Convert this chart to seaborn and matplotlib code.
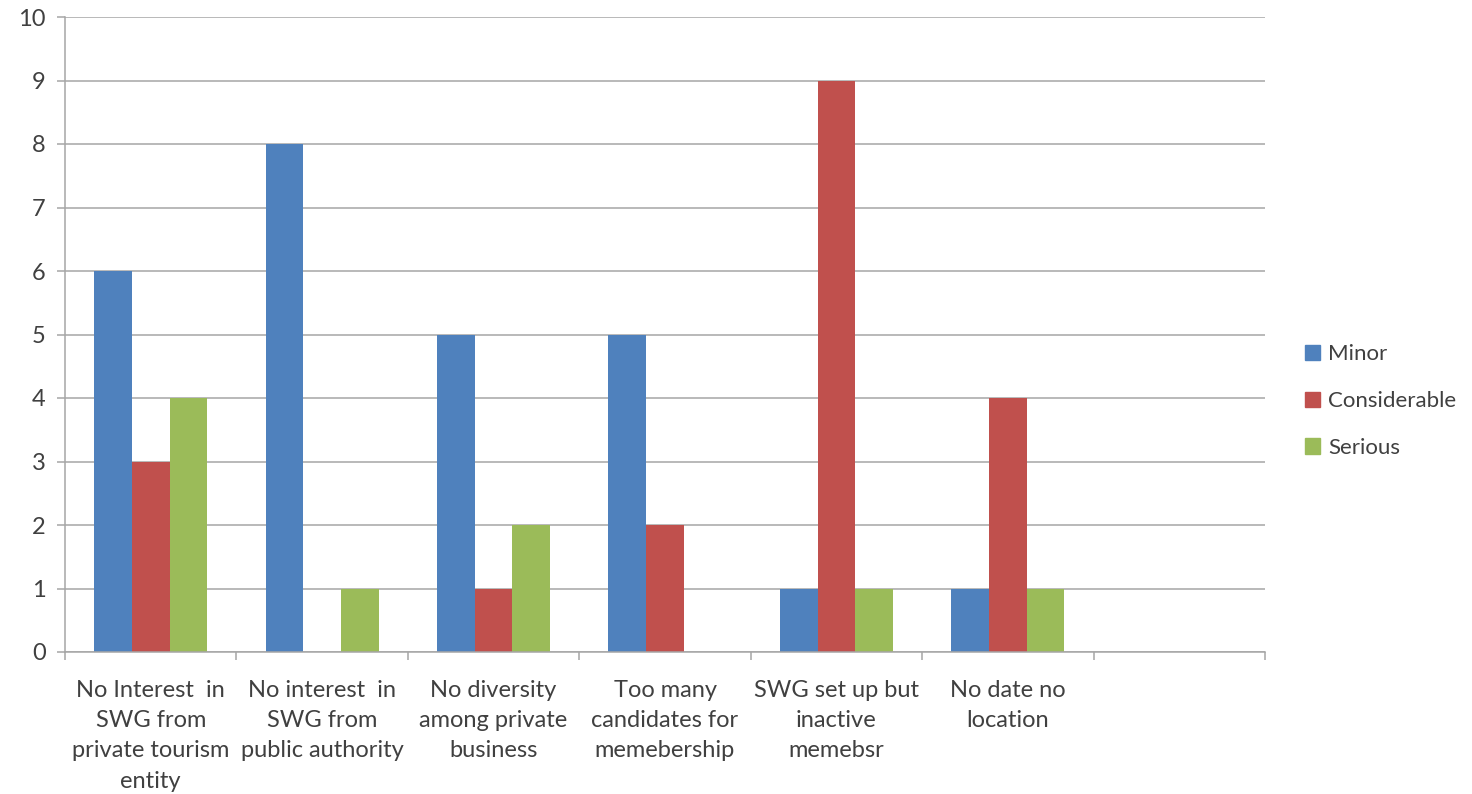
import matplotlib
matplotlib.use("Agg")
import matplotlib.pyplot as plt
import seaborn as sns
import pandas as pd
import numpy as np

categories = [
    "No Interest  in\nSWG from\nprivate tourism\nentity",
    "No interest  in\nSWG from\npublic authority",
    "No diversity\namong private\nbusiness",
    "Too many\ncandidates for\nmemebership",
    "SWG set up but\ninactive\nmemebsr",
    "No date no\nlocation",
    "",
]
minor = [6, 8, 5, 5, 1, 1, 0]
considerable = [3, 0, 1, 2, 9, 4, 0]
serious = [4, 1, 2, 0, 1, 1, 0]
series = ["Minor", "Considerable", "Serious"]
colors = ["#4F81BD", "#C0504D", "#9BBB59"]
y_ticks = list(range(0, 11))

sns.set_theme(style="white")
plt.rcParams["font.family"] = ["Lato", "DejaVu Sans"]

rows = []
for i, cat in enumerate(categories):
    for name, vals in zip(series, [minor, considerable, serious]):
        rows.append({"category": i, "severity": name, "count": vals[i]})
df = pd.DataFrame(rows)

fig = plt.figure(figsize=(14.72, 7.94), dpi=100)
ax = fig.add_axes([65 / 1472, 1 - 652 / 794, 1200 / 1472, 635 / 794])

sns.barplot(data=df, x="category", y="count", hue="severity",
            hue_order=series, palette=colors, width=0.66, gap=0,
            saturation=1, linewidth=0, ax=ax, legend=True)

ax.set_xlim(-0.5, len(categories) - 0.5)
ax.set_ylim(0, 10)
ax.set_yticks(y_ticks)
ax.set_xlabel("")
ax.set_ylabel("")

grid_col = "#A6A6A6"
text_col = "#404040"
fs = 17
ax.set_axisbelow(True)
ax.yaxis.grid(True, color=grid_col, linewidth=1.1)
ax.xaxis.grid(False)
for s in ["top", "right"]:
    ax.spines[s].set_visible(False)
for s in ["left", "bottom"]:
    ax.spines[s].set_color(grid_col)
    ax.spines[s].set_linewidth(1.1)

ax.set_xticks(np.arange(len(categories)))
ax.set_xticklabels(categories, fontsize=fs, color=text_col, linespacing=1.55)
ax.set_xticks(np.arange(-0.5, len(categories)), minor=True)
ax.tick_params(axis="x", which="major", length=0, pad=20)
ax.tick_params(axis="x", which="minor", length=6, width=1.1, color=grid_col, direction="out")
ax.tick_params(axis="y", length=6, width=1.1, color=grid_col, direction="out",
               labelsize=fs, labelcolor=text_col, pad=8)
ax.tick_params(axis="both", which="both", bottom=True, left=True)

ax.get_legend().remove()
handles = [plt.Rectangle((0, 0), 1, 1, color=c) for c in colors]
fig.legend(handles, series, loc="center left", bbox_to_anchor=(1305 / 1472, 1 - 401 / 794),
           frameon=False, fontsize=16, labelspacing=1.2, handlelength=0.68,
           handleheight=0.68, handletextpad=0.35, borderpad=0, borderaxespad=0,
           labelcolor=text_col)

fig.savefig("out.png", dpi=100)
